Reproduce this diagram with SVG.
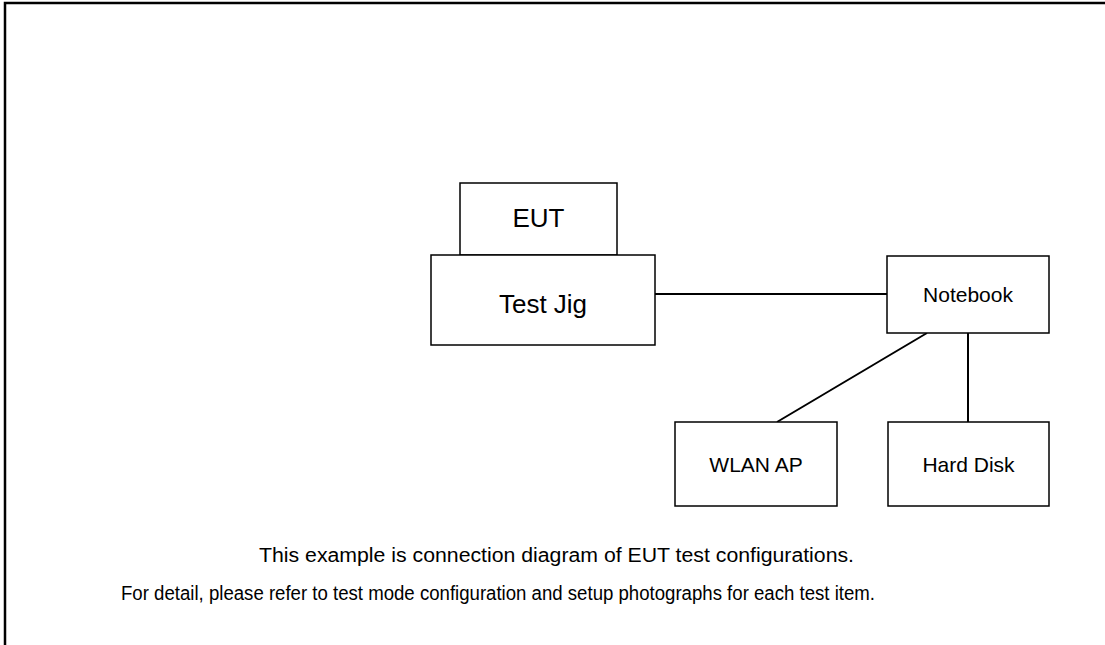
<svg xmlns="http://www.w3.org/2000/svg" width="1105" height="645" viewBox="0 0 1105 645">
<style>
.box{fill:#fff;stroke:#000;stroke-width:1.5}
.t{font-family:"Liberation Sans",Arial,sans-serif;fill:#000}
.big{font-size:26px;text-anchor:middle}
.mid{font-size:21px;text-anchor:middle}
.note{font-size:20px}
.conn{stroke:#000;stroke-width:2;fill:none}
</style>
<rect width="1105" height="645" fill="#fff"/>
<path d="M5,645 V3 H1105" fill="none" stroke="#000" stroke-width="2.5"/>
<g id="connectors">
<line class="conn" x1="655" y1="294" x2="887" y2="294"/>
<line class="conn" x1="927" y1="333" x2="777" y2="422"/>
<line class="conn" x1="968" y1="333" x2="968" y2="422"/>
</g>
<g id="eut"><rect class="box" x="460" y="183" width="157" height="72"/><text class="t big" x="538.5" y="227">EUT</text></g>
<g id="testjig"><rect class="box" x="431" y="255" width="224" height="90"/><text class="t big" x="543" y="313">Test Jig</text></g>
<g id="notebook"><rect class="box" x="887" y="256" width="162" height="77"/><text class="t mid" x="968" y="302">Notebook</text></g>
<g id="wlanap"><rect class="box" x="675" y="422" width="162" height="84"/><text class="t mid" x="756" y="472">WLAN AP</text></g>
<g id="harddisk"><rect class="box" x="888" y="422" width="161" height="84"/><text class="t mid" x="968.5" y="472">Hard Disk</text></g>
<g id="notes">
<text class="t note" x="259" y="562" textLength="595" lengthAdjust="spacingAndGlyphs">This example is connection diagram of EUT test configurations.</text>
<text class="t note" x="121" y="600" textLength="754" lengthAdjust="spacingAndGlyphs">For detail, please refer to test mode configuration and setup photographs for each test item.</text>
</g>
</svg>
